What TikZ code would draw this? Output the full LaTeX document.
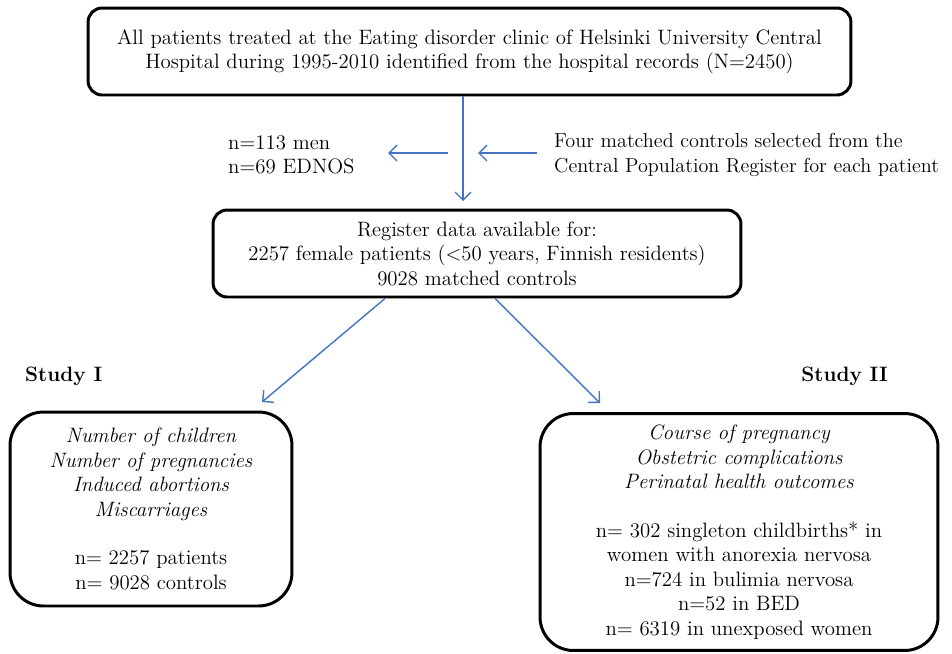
\documentclass[tikz,border=0pt]{standalone}
\usepackage{tikz}
\usetikzlibrary{arrows.meta,positioning}
\definecolor{arrowblue}{RGB}{68,114,196}

\begin{document}
\begin{tikzpicture}[x=0.02cm,y=-0.02cm,>={Straight Barb[length=4.5pt,width=9pt]},
  every node/.style={font=\fontsize{11.85}{13.9}\selectfont},
  box/.style={draw,line width=1.7pt,rounded corners=8pt,align=center,inner sep=0pt},
  bigbox/.style={box,rounded corners=19pt},
  arr/.style={->,draw=arrowblue,line width=0.8pt}]
  \useasboundingbox (0,0) rectangle (952,653);
  % boxes
  \node[box,minimum width=15.26cm,minimum height=1.74cm] (hosp) at (469.5,51.5)
    {All patients treated at the Eating disorder clinic of Helsinki University Central\\
     Hospital during 1995-2010 identified from the hospital records (N=2450)};
  \node[box,minimum width=10.56cm,minimum height=1.74cm] (reg) at (477,253.5)
    {Register data available for:\\
     2257 female patients (<50 years, Finnish residents)\\
     9028 matched controls};
  \node[bigbox,minimum width=5.64cm,minimum height=3.88cm] (study1) at (151,509)
    {\itshape Number of children\\ \itshape Number of pregnancies\\
     \itshape Induced abortions\\ \itshape Miscarriages\\[13.9pt]
     n= 2257 patients\\ n= 9028 controls};
  \node[bigbox,minimum width=7.96cm,minimum height=4.74cm] (study2) at (739,532)
    {\itshape Course of pregnancy\\ \itshape Obstetric complications\\
     \itshape Perinatal health outcomes\\[13.9pt]
     n= 302 singleton childbirths* in\\ women with anorexia nervosa\\
     n=724 in bulimia nervosa\\ n=52 in BED\\ n= 6319 in unexposed women};
  % side texts
  \node[align=left,anchor=west] (excl) at (222,155) {n=113 men\\ n=69 EDNOS};
  \node[align=left,anchor=west,font=\fontsize{11.5}{13.9}\selectfont] (ctrl) at (548,155)
    {Four matched controls selected from the\\ Central Population Register for each patient};
  \node[anchor=west,font=\fontsize{11.85}{13.9}\selectfont\bfseries] (lab1) at (19,376) {Study I};
  \node[anchor=east,font=\fontsize{11.85}{13.9}\selectfont\bfseries] (lab2) at (894,376) {Study II};
  % arrows
  \coordinate (trunk) at (463,201);
  \coordinate (exclend) at (388,153);
  \coordinate (ctrlend) at (478,153);
  \draw[arr] (hosp.south -| trunk) -- (trunk);
  \draw[arr] (exclend -| 448,0) -- (exclend);
  \draw[arr] (ctrl.west |- ctrlend) ++(-11,0) -- (ctrlend);
  \draw[arr] (reg.south -| 385,0) -- (262,402);
  \draw[arr] (reg.south -| 495,0) -- (600,403);
\end{tikzpicture}
\end{document}
